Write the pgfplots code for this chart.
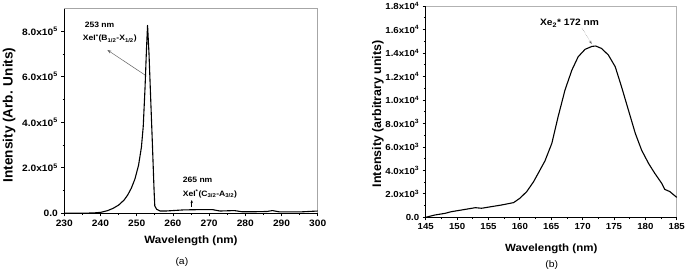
\documentclass[border=0pt]{standalone}
\usepackage{pgfplots}
\pgfplotsset{compat=1.18}
\usepackage{fontspec}
\setmainfont{Liberation Sans}[FakeStretch=1.1]
\newfontfamily\ylfont{Liberation Sans}
\usetikzlibrary{arrows.meta}
\newcommand{\an}{\fontsize{7.8}{9.5}\selectfont\bfseries}
\begin{document}
\begin{tikzpicture}[x=1bp,y=1bp]
\useasboundingbox (0,0) rectangle (685,277);
% ---------- (a) ----------
\begin{axis}[
  at={(64.3bp,63.7bp)}, anchor=south west,
  scale only axis, width=253.4bp, height=205bp,
  xmin=230, xmax=300, ymin=0, ymax=9e5,
  axis x line*=bottom, axis y line*=left,
  axis line style={black, line width=0.8bp},
  tick align=outside, tick style={black, line width=0.7bp},
  major tick length=3bp, minor tick length=1.8bp,
  xtick={230,240,...,300}, minor x tick num=1,
  ytick={0,2e5,4e5,6e5,8e5}, minor y tick num=1,
  yticklabels={0.0,2.0x10\textsuperscript{5},4.0x10\textsuperscript{5},6.0x10\textsuperscript{5},8.0x10\textsuperscript{5}},
  scaled y ticks=false,
  /pgf/number format/assume math mode=true,
  tick label style={font=\fontsize{9.3}{11}\selectfont\bfseries},
  xlabel={Wavelength (nm)}, ylabel={Intensity (Arb. Units)},
  xlabel style={font=\fontsize{10.6}{12}\selectfont\bfseries, at={(axis description cs:0.5,-0.134)}, anchor=center},
  ylabel style={font=\ylfont\fontsize{13.6}{15}\selectfont\bfseries, at={(axis description cs:-0.218,0.48)}, anchor=center},
  clip=false,
]
\draw[gray!70, line width=0.7bp] (rel axis cs:0,1) -- (rel axis cs:1,1) -- (rel axis cs:1,0);
\addplot[black, line width=1.1bp, line join=round] coordinates {
(230,0) (235,500) (238,1500) (240,4000) (242,1.2e4) (243.5,2.2e4) (245,3.6e4)
(246.5,5.8e4) (247.5,8e4) (248.5,1.1e5) (249.5,1.5e5) (250.5,2.1e5) (251.3,2.9e5)
(251.8,3.8e5) (252.3,5.5e5) (252.7,7.2e5) (253.0,8.25e5) (253.4,7e5) (253.8,5.3e5)
(254.3,3.2e5) (254.8,1e5) (255.0,3.2e4) (255.5,1.8e4) (256.5,1.0e4) (258,1.0e4)
(260,1.2e4) (263,1.5e4) (267,1.6e4) (271,1.6e4) (273,1.0e4) (275,1.1e4) (277,1.2e4)
(279,7e3) (283,7e3) (286,8e3) (287.5,1.2e4) (289.5,6e3) (295,6e3) (300,1e4)
};
\draw[gray!80!black, line width=0.5bp, -{Stealth[length=4bp,width=3bp]}] (axis cs:252.3,6.07e5) -- (axis cs:241.9,7.17e5);
\draw[black, line width=0.5bp, -{Stealth[length=3bp,width=2.5bp]}] (axis cs:265.2,2.9e4) -- (axis cs:265.2,5.8e4);
\node[anchor=west, font=\an, inner sep=0] at (axis cs:235.6,8.26e5) {253 nm};
\node[anchor=west, font=\an, inner sep=0] at (axis cs:235.1,7.68e5) {XeI\textsuperscript{*}(B\textsubscript{1/2}-X\textsubscript{1/2})};
\node[anchor=west, font=\an, inner sep=0] at (axis cs:262.7,1.46e5) {265 nm};
\node[anchor=west, font=\an, inner sep=0] at (axis cs:262.7,0.85e5) {XeI\textsuperscript{*}(C\textsubscript{3/2}-A\textsubscript{3/2})};
\node[font=\fontsize{9.5}{11}\selectfont] at (axis description cs:0.464,-0.236) {(a)};
\end{axis}
% ---------- (b) ----------
\begin{axis}[
  at={(425.7bp,59.7bp)}, anchor=south west,
  scale only axis, width=251bp, height=211.3bp,
  xmin=145, xmax=185, ymin=0, ymax=1.8e4,
  axis x line*=bottom, axis y line*=left,
  axis line style={black, line width=0.8bp},
  tick align=outside, tick style={black, line width=0.7bp},
  major tick length=3bp, minor tick length=1.8bp,
  xtick={145,150,...,185}, minor x tick num=1,
  ytick={0,2e3,4e3,6e3,8e3,1e4,1.2e4,1.4e4,1.6e4,1.8e4}, minor y tick num=1,
  yticklabels={0.0,2.0x10\textsuperscript{3},4.0x10\textsuperscript{3},6.0x10\textsuperscript{3},8.0x10\textsuperscript{3},1.0x10\textsuperscript{4},1.2x10\textsuperscript{4},1.4x10\textsuperscript{4},1.6x10\textsuperscript{4},1.8x10\textsuperscript{4}},
  scaled y ticks=false,
  /pgf/number format/assume math mode=true,
  tick label style={font=\fontsize{8.8}{10}\selectfont\bfseries},
  xlabel={Wavelength (nm)}, ylabel={Intensity (arbitrary units)},
  xlabel style={font=\fontsize{10.5}{12}\selectfont\bfseries, at={(axis description cs:0.5,-0.147)}, anchor=center},
  ylabel style={font=\ylfont\fontsize{12.5}{14}\selectfont\bfseries, at={(axis description cs:-0.19,0.49)}, anchor=center},
  clip=false,
]
\draw[gray!60, line width=0.7bp] (rel axis cs:0,1) -- (rel axis cs:1,1) -- (rel axis cs:1,0);
\addplot[black, line width=1.1bp, line join=round] coordinates {
(145,0) (146.5,200) (148.1,340) (149.1,480) (150.7,620) (152.9,820) (153.9,770)
(155.5,910) (157.1,1050) (159.0,1250) (160.0,1620) (161.1,2190) (162.2,3040)
(164.0,4800) (165.1,6300) (166.1,8570) (167.2,10850) (168.3,12550) (169.3,13680)
(170.4,14310) (171.5,14560) (172.1,14590) (173.0,14390) (174.1,13830) (175.2,12830)
(176.2,11130) (177.3,9140) (178.4,7150) (179.4,5730) (180.5,4600) (181.5,3750)
(182.6,2900) (183.1,2380) (183.9,2190) (185,1700)
};
\draw[gray!80!black, line width=0.4bp, densely dotted, -{Stealth[length=3.5bp,width=2.5bp]}] (axis cs:169.9,16125) -- (axis cs:171.45,14763);
\node[anchor=west, font=\fontsize{9.3}{10}\selectfont\bfseries, inner sep=0] at (axis cs:163.2,16527) {Xe\textsubscript{2}* 172 nm};
\node[font=\fontsize{9.5}{11}\selectfont] at (axis description cs:0.502,-0.226) {(b)};
\end{axis}
\end{tikzpicture}
\end{document}
